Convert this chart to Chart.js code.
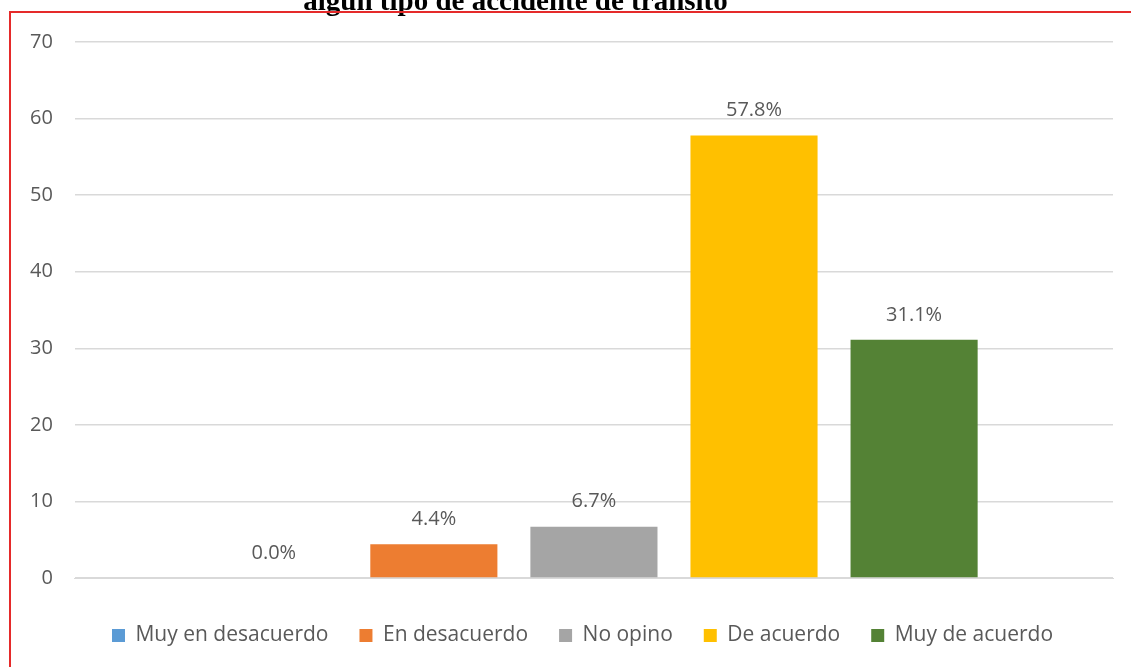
<!DOCTYPE html>
<html>
<head>
<meta charset="utf-8">
<script src="https://cdn.jsdelivr.net/npm/chart.js@4"></script>
<style>
  body { margin: 0; background: #fff; overflow: hidden; }
  #wrap { position: relative; width: 1131px; height: 667px; }
  #title { position: absolute; top: -16px; left: 0; width: 1031px; text-align: center;
    font: bold 29px "Liberation Serif", "Times New Roman", serif; color: #000; white-space: nowrap; }
  #frameTop { position: absolute; left: 9px; top: 11px; width: 1122px; height: 2px; background: #e52a2a; }
  #frameLeft { position: absolute; left: 9px; top: 11px; width: 2px; height: 656px; background: #e52a2a; }
  canvas { position: absolute; left: 0; top: 0; }
</style>
</head>
<body>
<div id="wrap">
  <canvas id="chart" width="1131" height="667"></canvas>
  <div id="title">algún tipo de accidente de tránsito</div>
  <div id="frameTop"></div>
  <div id="frameLeft"></div>
</div>
<script>
const seriesNames = ['Muy en desacuerdo', 'En desacuerdo', 'No opino', 'De acuerdo', 'Muy de acuerdo'];
const seriesValues = [0, 4.4, 6.7, 57.8, 31.1];
const seriesColors = ['#5B9BD5', '#ED7D31', '#A5A5A5', '#FFC000', '#548235'];
const yTicks = [0, 10, 20, 30, 40, 50, 60, 70];

const textColor = '#595959';
const fontFamily = '"Open Sans", "Liberation Sans", sans-serif';

// percentage labels above each bar
const barLabels = {
  id: 'barLabels',
  afterDatasetsDraw(chart) {
    const ctx = chart.ctx;
    ctx.save();
    ctx.font = '20px ' + fontFamily;
    ctx.fillStyle = textColor;
    ctx.textAlign = 'center';
    ctx.textBaseline = 'middle';
    chart.data.datasets.forEach((ds, i) => {
      const bar = chart.getDatasetMeta(i).data[0];
      ctx.fillText(ds.data[0].toFixed(1) + '%', bar.x, bar.y - 25);
    });
    ctx.restore();
  }
};

// legend sits centred under the plot area, not the whole canvas
const legendShift = {
  id: 'legendShift',
  afterLayout(chart) {
    chart.legend.left += 22;
    chart.legend.right += 22;
  }
};

new Chart(document.getElementById('chart').getContext('2d'), {
  type: 'bar',
  data: {
    labels: [''],
    datasets: seriesNames.map((name, i) => ({
      label: name,
      data: [seriesValues[i]],
      backgroundColor: seriesColors[i],
      categoryPercentage: 0.771,
      barPercentage: 0.794
    }))
  },
  options: {
    responsive: false,
    animation: false,
    layout: { padding: { left: 8, right: 18, top: 42, bottom: 11 } },
    plugins: {
      legend: {
        position: 'bottom',
        labels: {
          color: textColor,
          font: { family: fontFamily, size: 21 },
          boxWidth: 13,
          boxHeight: 13,
          padding: 31
        }
      },
      tooltip: { enabled: false },
      title: { display: false }
    },
    scales: {
      x: {
        ticks: { display: false },
        grid: { display: false },
        border: { display: true, color: '#D9D9D9' },
        afterFit: s => { s.height += 8; }
      },
      y: {
        min: 0,
        max: 70,
        afterBuildTicks: axis => { axis.ticks = yTicks.map(v => ({ value: v })); },
        ticks: {
          color: textColor,
          font: { family: fontFamily, size: 20 },
          padding: 22
        },
        grid: { color: '#D9D9D9', lineWidth: 1.5, drawTicks: false },
        border: { display: false }
      }
    }
  },
  plugins: [barLabels, legendShift]
});
</script>
</body>
</html>
